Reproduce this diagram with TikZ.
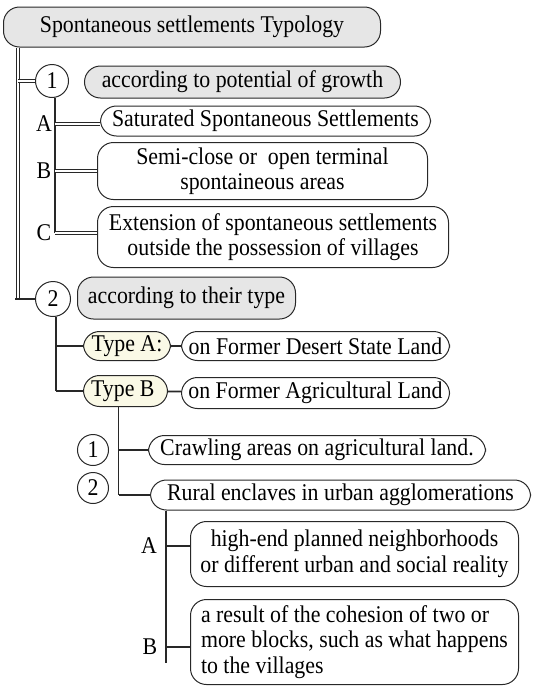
\documentclass[tikz,border=0pt]{standalone}
\usepackage{fontspec}
\setmainfont[FakeStretch=0.91]{Liberation Serif}
\usepackage{xcolor}
\usepackage{tikz}
\usetikzlibrary{positioning, calc}
\definecolor{edge}{RGB}{40, 40, 40}
\definecolor{shade}{RGB}{230, 230, 230}
\definecolor{cream}{RGB}{250, 249, 230}
\newcommand{\boxfont}{\fontsize{24}{25.5}\selectfont}

\begin{document}
\begin{tikzpicture}[
    x=1pt, y=-1pt,
    box/.style={rectangle, draw=edge, line width=1pt, rounded corners=16pt,
                align=center, inner sep=3pt, font=\boxfont},
    greybox/.style={box, fill=shade},
    typebox/.style={box, fill=cream},
    num/.style={circle, draw=edge, line width=1pt, minimum size=33pt,
                inner sep=0pt, font=\boxfont},
    tag/.style={inner sep=0pt, font=\boxfont},
    twin/.style={draw=edge, double=white, double distance=2pt, line width=0.7pt},
    link/.style={draw=edge, line width=1.8pt}
]
\useasboundingbox (0,0) rectangle (533,686);

% Root
\node[greybox, anchor=west, minimum width=377pt, minimum height=40pt] (root) at (3,27)
    {Spontaneous settlements Typology};

% Group 1
\node[num] (c1) at (52,81) {1};
\node[greybox, anchor=west, minimum width=316pt, minimum height=32pt] (grow) at (84,82)
    {according to potential of growth};
\node[box, anchor=west, minimum width=330pt, minimum height=30pt] (sat) at (100,121)
    {Saturated Spontaneous Settlements};
\node[box, anchor=west, minimum width=330pt, minimum height=57pt] (semi) at (97,171)
    {Semi-close or~ open terminal\\spontaineous areas};
\node[box, anchor=west, minimum width=351pt, minimum height=61pt] (ext) at (97,237)
    {Extension of spontaneous settlements\\outside the possession of villages};
\node[tag] (lA) at (44,124) {A};
\node[tag] (lB) at (44,171) {B};
\node[tag] (lC) at (44,233) {C};

% Group 2
\node[num, minimum size=35pt] (c2) at (53,299) {2};
\node[greybox, anchor=west, minimum width=218pt, minimum height=42pt] (type) at (77,298)
    {according to their type};
\node[typebox, anchor=west, minimum width=87pt, minimum height=29pt] (tA) at (83,346) {Type A:};
\node[box, right=10pt of tA, minimum width=268pt, minimum height=29pt] (desert)
    {on Former Desert State Land};
\node[typebox, anchor=west, minimum width=84pt, minimum height=31pt] (tB) at (83,391) {Type B~};
\node[box, below=16pt of desert, minimum width=268pt, minimum height=31pt] (agri)
    {on Former Agricultural Land};

% Type B items
\node[num, minimum size=31pt] (n1) at (93,450) {1};
\node[num, minimum size=31pt] (n2) at (93,488) {2};
\node[box, anchor=west, minimum width=337pt, minimum height=29pt] (crawl) at (148,450)
    {Crawling areas on agricultural land.};
\node[box, anchor=west, minimum width=380pt, minimum height=30pt] (rural) at (150,495)
    {Rural enclaves in urban agglomerations};
\node[box, anchor=west, minimum width=328pt, minimum height=65pt] (high) at (190,554)
    {high-end planned neighborhoods\\or different urban and social reality};
\node[box, anchor=west, align=left, minimum width=328pt, minimum height=85pt] (res) at (190,642)
    {a result of the cohesion of two or\\more blocks, such as what happens\\to the villages};
\node[tag] (hA) at (149,546) {A};
\node[tag] (hB) at (150,647) {B};

% Trunk
\coordinate (trunk) at ([xshift=15pt]root.south west);
\draw[twin] (trunk) -- (trunk |- c2.west);
\draw[link] ([xshift=-3pt]trunk |- c2.west) -- (c2.west);
\draw[twin] (trunk |- c1.west) -- (c1.west);

% Growth branches
\coordinate (s1) at ([xshift=3pt]c1.south);
\draw[link] (s1) -- (s1 |- lC);
\draw[twin] (s1 |- lA) -- (lA -| sat.west);
\draw[twin] (s1 |- semi.west) -- (semi.west);
\draw[twin] (s1 |- lC) -- (lC -| ext.west);

% Type branches
\coordinate (s2) at ([xshift=3pt]c2.south);
\draw[link] (s2) -- (s2 |- tB.west);
\draw[link] (s2 |- tA.west) -- (tA.west);
\draw[link] (s2 |- tB.west) -- (tB.west);
\draw[link] (tA) -- (desert);
\draw[link] (tB) -- (agri);

% Type B sub branches
\coordinate (s3) at ([xshift=-7pt]tB.south);
\draw[link] (s3) -- (s3 |- rural.west);
\draw[link] (s3 |- crawl.west) -- (crawl.west);
\draw[link] (s3 |- rural.west) -- (rural.west);

% Rural enclaves
\coordinate (s4) at ([xshift=16pt]rural.south west);
\draw[link] (s4) -- ([yshift=-16pt]s4 |- hB);
\draw[link] (s4 |- hA) -- (hA -| high.west);
\draw[link] (s4 |- hB) -- (hB -| res.west);

\end{tikzpicture}
\end{document}
